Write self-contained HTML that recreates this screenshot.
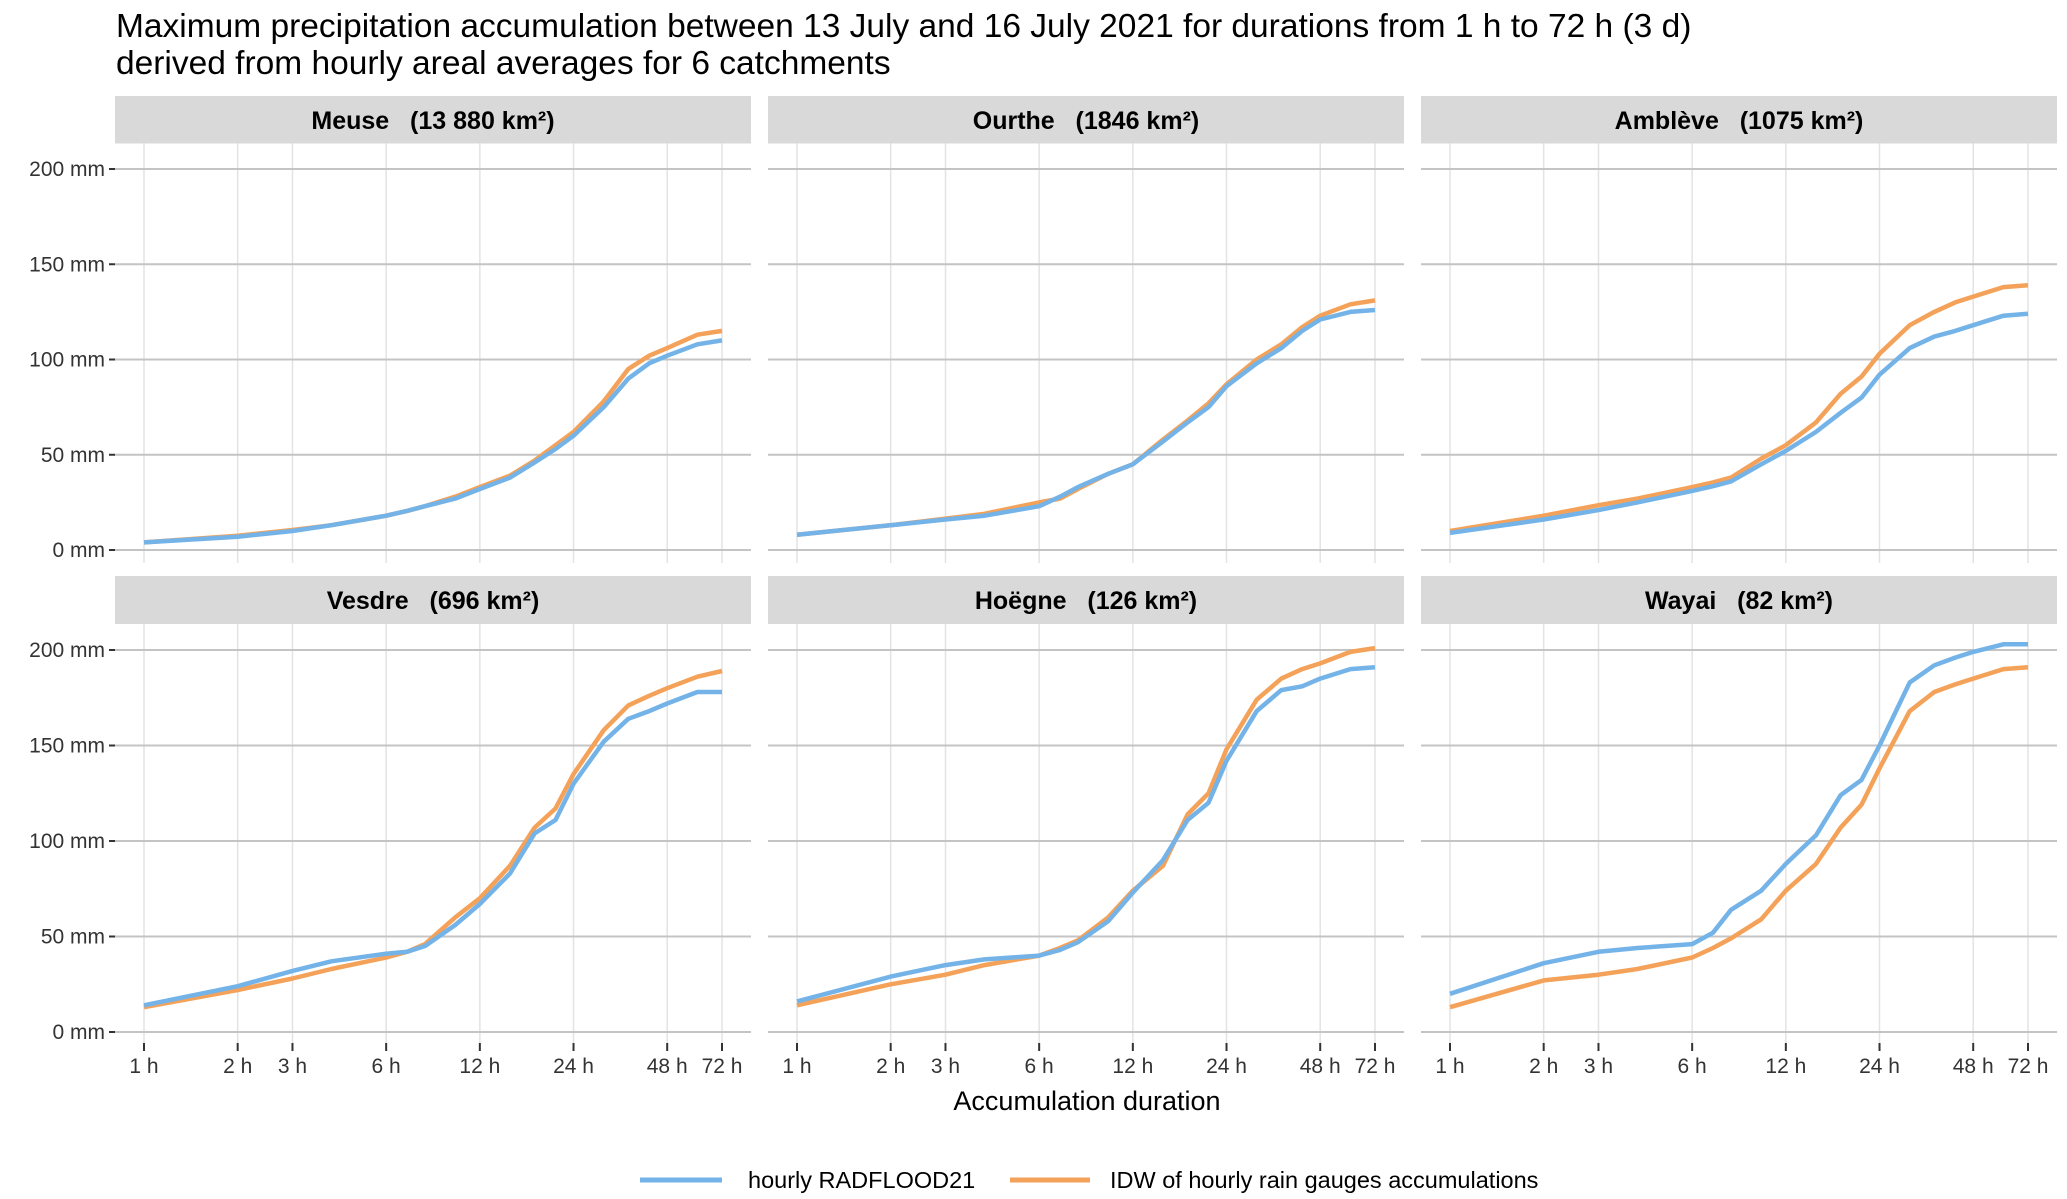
<!DOCTYPE html>
<html><head><meta charset="utf-8"><style>
html,body{margin:0;padding:0;background:#fff}
svg{display:block;font-family:"Liberation Sans",sans-serif}
</style></head><body>
<svg id="chart" width="2067" height="1199" viewBox="0 0 2067 1199" xmlns="http://www.w3.org/2000/svg">
<text x="116" y="37" font-size="33.5" fill="#000">Maximum precipitation accumulation between 13 July and 16 July 2021 for durations from 1 h to 72 h (3 d)</text>
<text x="116" y="74" font-size="33.5" fill="#000">derived from hourly areal averages for 6 catchments</text>
<g id="panels"></g>
<text x="1087" y="1110" font-size="27" text-anchor="middle" fill="#000">Accumulation duration</text>
<g>
<line x1="640" y1="1180" x2="722" y2="1180" stroke="#74b3e8" stroke-width="5"/>
<text x="748" y="1188" font-size="23.5">hourly RADFLOOD21</text>
<line x1="1010" y1="1180" x2="1090" y2="1180" stroke="#f4a259" stroke-width="5"/>
<text x="1110" y="1188" font-size="23.5">IDW of hourly rain gauges accumulations</text>
</g>
</svg>
<script>
const durations = [1,2,3,4,6,7,8,10,12,15,18,21,24,30,36,42,48,60,72];
const xTicks = [1,2,3,6,12,24,48,72];
const xTickLabels = ["1 h","2 h","3 h","6 h","12 h","24 h","48 h","72 h"];
const yTicks = [0,50,100,150,200];
const yTickLabels = ["0 mm","50 mm","100 mm","150 mm","200 mm"];
const catchments = ["Meuse   (13 880 km²)","Ourthe   (1846 km²)","Amblève   (1075 km²)","Vesdre   (696 km²)","Hoëgne   (126 km²)","Wayai   (82 km²)"];
const meuseRad = [4,7,10,13,18,20.5,23,27,32,38,46,53,60,75,90,98,102,108,110];
const meuseIdw = [4,7.5,10.5,13,18,20.5,23,28,33,39,47,55,62,78,95,102,106,113,115];
const ourtheRad = [8,13,16,18,23,28,33,40,45,57,67,75,86,98,106,115,121,125,126];
const ourtheIdw = [8,13,16.5,19,25,27,32,40,45,58,68,77,87,100,108,117,123,129,131];
const ambleveRad = [9,16,21,25,31,33.5,36,45,52,62,72,80,92,106,112,115,118,123,124];
const ambleveIdw = [10,18,23.5,27,33,35.5,38,48,55,67,82,91,103,118,125,130,133,138,139];
const vesdreRad = [14,24,32,37,41,42,45,56,67,83,104,111,130,152,164,168,172,178,178];
const vesdreIdw = [13,22,28,33,39,42,46,60,70,87,107,117,135,158,171,176,180,186,189];
const hoegneRad = [16,29,35,38,40,43,47,58,73,90,111,120,142,168,179,181,185,190,191];
const hoegneIdw = [14,25,30,35,40,44,48,60,74,87,114,125,148,174,185,190,193,199,201];
const wayaiRad = [20,36,42,44,46,52,64,74,88,103,124,132,150,183,192,196,199,203,203];
const wayaiIdw = [13,27,30,33,39,44,49,59,74,88,107,119,138,168,178,182,185,190,191];
const radSeries = [meuseRad,ourtheRad,ambleveRad,vesdreRad,hoegneRad,wayaiRad];
const idwSeries = [meuseIdw,ourtheIdw,ambleveIdw,vesdreIdw,hoegneIdw,wayaiIdw];

const NS="http://www.w3.org/2000/svg";
const g=document.getElementById('panels');
function mk(t,a){const e=document.createElementNS(NS,t);for(const k in a)e.setAttribute(k,a[k]);return e;}
const colsX=[115,768,1421], W=636;
const rows=[{stripTop:96,top:143.5,bottom:563,y0:550,y200:169},{stripTop:576,top:624,bottom:1045,y0:1032,y200:650}];
for(let i=0;i<6;i++){
  const c=i%3,r=Math.floor(i/3),L=colsX[c],R=rows[r];
  const xs=d=>L+29+Math.log(d)/Math.log(72)*578;
  const ys=v=>R.y0+(R.y200-R.y0)*v/200;
  const strip=mk('rect',{x:L,y:R.stripTop,width:W,height:R.top-R.stripTop,fill:'#d9d9d9'});
  
  
  g.appendChild(strip);
  const st=mk('text',{x:L+W/2,y:(R.stripTop+R.top)/2+9,'font-size':25,'font-weight':'bold','text-anchor':'middle',style:'white-space:pre'});
  st.textContent=catchments[i];
  
  
  g.appendChild(st);
  xTicks.forEach((t,k)=>{
    const gl=mk('line',{x1:xs(t),x2:xs(t),y1:R.top,y2:R.bottom,stroke:'#e3e3e3','stroke-width':1.5});
    
    
    g.appendChild(gl);
    if(r===1){
      const tk=mk('line',{x1:xs(t),x2:xs(t),y1:R.bottom-2,y2:R.bottom+6,stroke:'#333','stroke-width':2});
      
      
      g.appendChild(tk);
      const tl=mk('text',{x:xs(t),y:1073,'font-size':21,'text-anchor':'middle',fill:'#333'});
      tl.textContent=xTickLabels[k];
      
      
      g.appendChild(tl);
    }
  });
  yTicks.forEach((t,k)=>{
    const gl=mk('line',{x1:L,x2:L+W,y1:ys(t),y2:ys(t),stroke:'#c4c4c4','stroke-width':2});
    
    
    g.appendChild(gl);
    if(c===0){
      const tk=mk('line',{x1:L-6,x2:L,y1:ys(t),y2:ys(t),stroke:'#333','stroke-width':2});
      
      
      g.appendChild(tk);
      const tl=mk('text',{x:L-10,y:ys(t)+7,'font-size':21,'text-anchor':'end',fill:'#333'});
      tl.textContent=yTickLabels[k];
      
      
      g.appendChild(tl);
    }
  });
  const pts=s=>durations.map((d,j)=>xs(d).toFixed(1)+','+ys(s[j]).toFixed(1)).join(' ');
  const po=mk('polyline',{points:pts(idwSeries[i]),fill:'none',stroke:'#f4a259','stroke-width':4.5,'stroke-linejoin':'round'});
  
  
  g.appendChild(po);
  const pb=mk('polyline',{points:pts(radSeries[i]),fill:'none',stroke:'#74b3e8','stroke-width':4.5,'stroke-linejoin':'round'});
  
  
  g.appendChild(pb);
}
</script>
</body></html>
